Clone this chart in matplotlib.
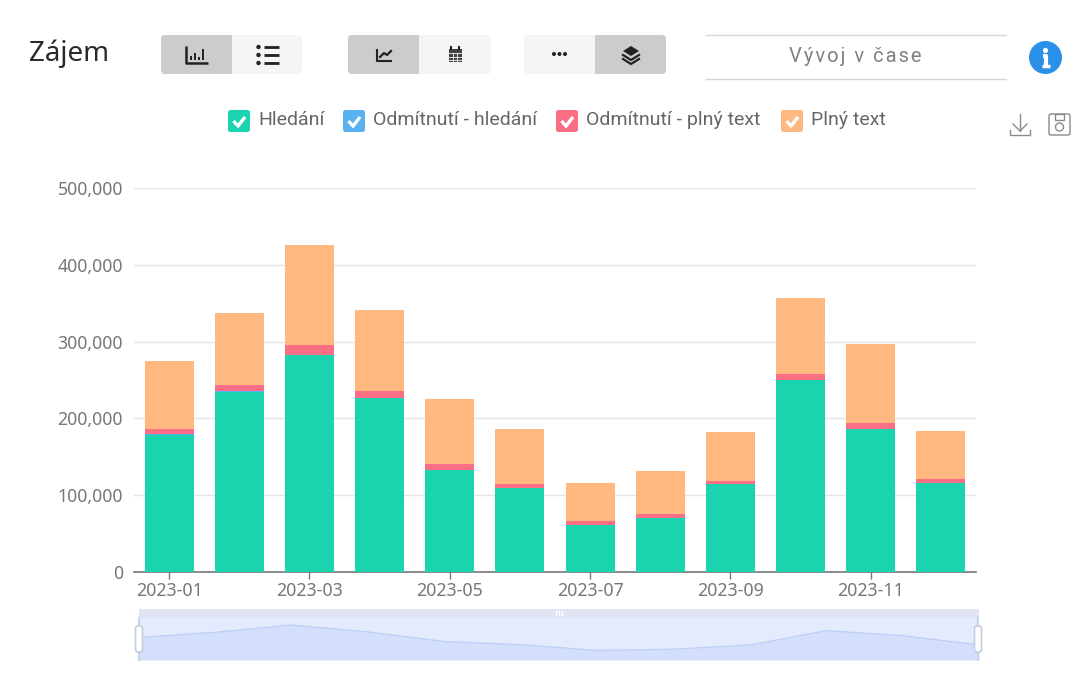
import matplotlib
matplotlib.use("Agg")
import matplotlib.pyplot as plt
from matplotlib.patches import FancyBboxPatch, Rectangle, Circle, Polygon

months = ["2023-01", "2023-02", "2023-03", "2023-04", "2023-05", "2023-06",
          "2023-07", "2023-08", "2023-09", "2023-10", "2023-11", "2023-12"]
hledani = [179000, 235000, 282000, 226000, 133000, 109000, 61000, 70000, 114000, 250000, 186000, 116000]
odm_hledani = [300, 300, 400, 300, 200, 200, 100, 100, 200, 300, 300, 200]
odm_plny = [7000, 8000, 13000, 10000, 7000, 5000, 5000, 5000, 4000, 8000, 8000, 5000]
plny = [88000, 94000, 131000, 105000, 85000, 72000, 50000, 56000, 64000, 99000, 102000, 62000]

series_names = ["Hledání", "Odmítnutí - hledání", "Odmítnutí - plný text", "Plný text"]
colors = ["#19d4ae", "#5ab1ef", "#fa6e86", "#ffb980"]

W, H = 1092, 686
fig = plt.figure(figsize=(W / 100, H / 100), dpi=100)
plt.rcParams["font.family"] = ["Noto Sans", "DejaVu Sans"]


def axes_px(x0, y0, x1, y1, **kw):
    # pixel box, y measured from the top of the picture
    return fig.add_axes([x0 / W, 1 - y1 / H, (x1 - x0) / W, (y1 - y0) / H], **kw)


# main chart
ax = axes_px(134, 188, 976, 572)
x = list(range(len(months)))
bottom = [0] * len(months)
for vals, c in zip([hledani, odm_hledani, odm_plny, plny], colors):
    ax.bar(x, vals, bottom=bottom, width=0.7, color=c, linewidth=0, zorder=3)
    bottom = [b + v for b, v in zip(bottom, vals)]

ax.set_xlim(-0.5, 11.5)
ax.set_ylim(0, 500000)
ax.set_yticks([0, 100000, 200000, 300000, 400000, 500000])
ax.set_yticklabels([f"{v:,}" for v in ax.get_yticks()], fontsize=12.7, color="#777777")
ax.set_xticks(x[::2])
ax.set_xticklabels(months[::2], fontsize=12.8, color="#777777")
ax.tick_params(axis="y", length=0, pad=8)
ax.tick_params(axis="x", length=5, width=1, color="#777777", pad=2)
ax.grid(axis="y", color="#e4e4e4", linewidth=1, zorder=0)
for s in ["top", "left", "right"]:
    ax.spines[s].set_visible(False)
ax.spines["bottom"].set_color("#777777")
ax.spines["bottom"].set_linewidth(1.2)

# data zoom strip under the chart
sl = axes_px(139, 618, 979, 660)
sl.fill_between(x, bottom, color="#d3dffb", linewidth=0)
sl.plot(x, bottom, color="#bccef6", linewidth=0.9)
sl.set_xlim(0, 11)
sl.set_ylim(0, 511000)
sl.set_facecolor("#e4ebfc")
sl.set_xticks([])
sl.set_yticks([])
for s in sl.spines.values():
    s.set_visible(False)

# everything else in pixel coordinates
ov = fig.add_axes([0, 0, 1, 1], facecolor="none")
ov.set_xlim(0, W)
ov.set_ylim(H, 0)
ov.axis("off")

ov.add_patch(Rectangle((139, 609), 840, 9, color="#dfe5f4", lw=0))
for hx in [556, 559, 562]:
    ov.plot([hx, hx], [611, 615], color="white", lw=1)
for hx in [139, 978]:
    ov.plot([hx, hx], [618, 660], color="#c9d3ea", lw=1.5)
    ov.add_patch(FancyBboxPatch((hx - 3.5, 626), 7, 26, boxstyle="round,pad=0,rounding_size=2.5",
                                fc="white", ec="#c6cede", lw=1.2, zorder=5))

ov.text(29, 54, "Zájem", fontsize=20, color="#2a2a2a", va="center", ha="left", family="Noto Sans", weight="medium")


def button_group(x0, x1, split, active_left):
    # two segment toggle, one side darker
    ov.add_patch(FancyBboxPatch((x0, 35), x1 - x0, 39, boxstyle="round,pad=0,rounding_size=4",
                                fc="#f5f5f5", ec="none"))
    if active_left:
        ov.add_patch(FancyBboxPatch((x0, 35), split - x0, 39, boxstyle="round,pad=0,rounding_size=4",
                                    fc="#cccccc", ec="none"))
        ov.add_patch(Rectangle((split - 6, 35), 6, 39, fc="#cccccc", ec="none"))
    else:
        ov.add_patch(FancyBboxPatch((split, 35), x1 - split, 39, boxstyle="round,pad=0,rounding_size=4",
                                    fc="#cccccc", ec="none"))
        ov.add_patch(Rectangle((split, 35), 6, 39, fc="#cccccc", ec="none"))


button_group(161, 302, 232, True)
button_group(348, 491, 419, True)
button_group(524, 666, 595, False)

ink = "#222222"
# bar chart icon
ov.plot([186, 186, 208], [46, 63, 63], color=ink, lw=1.8, solid_capstyle="butt")
for bx, top in [(191, 56), (195, 53), (199, 57), (203, 49)]:
    ov.plot([bx, bx], [60, top], color=ink, lw=1.4, solid_capstyle="butt")
# list icon
for ly in [47, 55, 63]:
    ov.add_patch(Circle((258.5, ly), 2.2, color=ink, lw=0))
    ov.plot([264, 279], [ly, ly], color=ink, lw=2, solid_capstyle="butt")
# line chart icon
ov.plot([377, 377, 392], [49, 61, 61], color=ink, lw=1.5, solid_capstyle="butt")
ov.plot([380, 384, 387, 391], [57, 53, 55, 51], color=ink, lw=1.6)
# calendar icon
ov.add_patch(Rectangle((448.5, 49), 13, 13, fc="#444444", ec="none"))
ov.plot([451, 451], [47, 49], color=ink, lw=1.5)
ov.plot([459, 459], [47, 49], color=ink, lw=1.5)
for gy in [53, 56.5, 59.5]:
    ov.plot([449, 461], [gy, gy], color="#f5f5f5", lw=0.6)
for gx in [453, 457]:
    ov.plot([gx, gx], [53, 62], color="#f5f5f5", lw=0.6)
# dots icon
for dx in [554, 559.5, 565]:
    ov.add_patch(Circle((dx, 54), 2, color=ink, lw=0))
# layers icon
ov.add_patch(Polygon([(631, 46), (639, 51), (631, 56), (623, 51)], fc=ink, ec="none"))
for dy in [0, 4]:
    ov.plot([623, 631, 639], [55 + dy, 60 + dy, 55 + dy], color=ink, lw=1.6)

# right hand title box
ov.plot([706, 1006], [35, 35], color="#d5d5d5", lw=1)
ov.plot([706, 1006], [79, 79], color="#d5d5d5", lw=1)
ov.text(855.5, 56, "\u200a".join("Vývoj v čase"), fontsize=14.5, color="#808080", va="center", ha="center",
        family=["Roboto", "DejaVu Sans"])

# info icon
ov.add_patch(Circle((1045.5, 57.5), 16.5, color="#2a90e8", lw=0))
ov.add_patch(Circle((1045.5, 50.5), 2.6, color="white", lw=0))
ov.plot([1042.5, 1046, 1046], [56, 56, 65], color="white", lw=3, solid_capstyle="butt")
ov.plot([1042, 1050], [65.5, 65.5], color="white", lw=2.5, solid_capstyle="butt")

# legend
legend_x = [228, 343, 556, 781]
for lx, name, c in zip(legend_x, series_names, colors):
    ov.add_patch(FancyBboxPatch((lx, 110), 22, 22, boxstyle="round,pad=0,rounding_size=2.5", fc=c, ec="none"))
    ov.plot([lx + 5.5, lx + 10, lx + 17], [121, 126, 117], color="white", lw=2.4,
            solid_capstyle="butt", solid_joinstyle="miter")
    ov.text(lx + 30, 120, name, fontsize=14, color="#666666", va="center", ha="left", family="Roboto")

# toolbox icons
tc = "#8a8a8a"
ov.plot([1020, 1020], [114, 131], color=tc, lw=1)
ov.plot([1013, 1020, 1027], [124, 131, 124], color=tc, lw=1)
ov.plot([1010, 1010, 1030, 1030], [130, 135, 135, 130], color=tc, lw=1)
ov.add_patch(FancyBboxPatch((1049, 114), 21, 21, boxstyle="round,pad=0,rounding_size=2", fc="none", ec=tc, lw=1))
ov.add_patch(Rectangle((1055, 114), 9, 6, fc="none", ec=tc, lw=1))
ov.add_patch(Circle((1059.5, 127), 4, fc="none", ec=tc, lw=1))

fig.savefig("out.png", dpi=100, facecolor="white")
